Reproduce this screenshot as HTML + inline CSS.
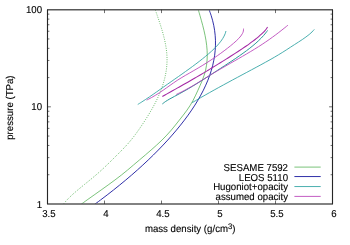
<!DOCTYPE html>
<html><head><meta charset="utf-8"><title>pressure vs mass density</title>
<style>html,body{margin:0;padding:0;background:#fff}svg{display:block;will-change:transform}text{font-family:"Liberation Sans",sans-serif;text-rendering:geometricPrecision}</style>
</head><body>
<svg width="350" height="245" viewBox="0 0 350 245">
<rect width="350" height="245" fill="#fff"/>
<defs><clipPath id="c"><rect x="47.5" y="9.7" width="285" height="194.25"/></clipPath></defs>
<g fill="none" clip-path="url(#c)" stroke-linecap="butt" stroke-linejoin="round">
<path d="M155.43,10.25 C155.72,11.08 156.59,13.57 157.16,15.23 C157.73,16.89 158.30,18.55 158.86,20.21 C159.42,21.87 159.97,23.53 160.50,25.19 C161.03,26.85 161.55,28.51 162.04,30.17 C162.53,31.83 162.99,33.49 163.43,35.15 C163.87,36.81 164.29,38.47 164.66,40.13 C165.03,41.79 165.37,43.45 165.66,45.11 C165.95,46.77 166.21,48.43 166.42,50.09 C166.63,51.75 166.80,53.41 166.90,55.07 C167.00,56.73 167.05,58.38 167.04,60.04 C167.03,61.70 166.96,63.36 166.84,65.02 C166.72,66.68 166.54,68.34 166.31,70.00 C166.08,71.66 165.79,73.32 165.45,74.98 C165.11,76.64 164.72,78.30 164.28,79.96 C163.84,81.62 163.35,83.28 162.81,84.94 C162.27,86.60 161.69,88.26 161.06,89.92 C160.43,91.58 159.75,93.24 159.03,94.90 C158.31,96.56 157.55,98.22 156.75,99.88 C155.95,101.54 155.10,103.20 154.22,104.86 C153.34,106.52 152.42,108.18 151.47,109.84 C150.52,111.50 149.54,113.16 148.53,114.82 C147.52,116.48 146.48,118.14 145.42,119.80 C144.36,121.46 143.27,123.12 142.16,124.78 C141.05,126.44 139.93,128.10 138.77,129.76 C137.61,131.42 136.43,133.08 135.19,134.74 C133.95,136.40 132.67,138.06 131.31,139.72 C129.95,141.38 128.52,143.04 127.03,144.70 C125.54,146.36 123.95,148.02 122.35,149.68 C120.75,151.34 119.07,153.00 117.41,154.66 C115.75,156.32 114.07,157.97 112.39,159.63 C110.71,161.29 109.03,162.95 107.31,164.61 C105.59,166.27 103.85,167.93 102.05,169.59 C100.25,171.25 98.40,172.91 96.48,174.57 C94.56,176.23 92.55,177.89 90.54,179.55 C88.53,181.21 86.43,182.87 84.40,184.53 C82.37,186.19 80.31,187.85 78.34,189.51 C76.37,191.17 74.41,192.83 72.59,194.49 C70.78,196.15 69.02,197.81 67.45,199.47 C65.88,201.13 63.88,203.62 63.16,204.45" stroke="#62b662" stroke-width="0.95" stroke-dasharray="0.95 1.35"/>
<path d="M198.43,10.25 C198.67,11.08 199.41,13.58 199.89,15.24 C200.37,16.90 200.85,18.57 201.31,20.23 C201.77,21.89 202.23,23.57 202.66,25.23 C203.09,26.89 203.52,28.56 203.91,30.22 C204.30,31.88 204.68,33.55 205.02,35.21 C205.36,36.87 205.68,38.54 205.95,40.20 C206.22,41.87 206.46,43.54 206.65,45.20 C206.84,46.87 207.00,48.53 207.10,50.19 C207.20,51.85 207.26,53.52 207.26,55.18 C207.26,56.84 207.21,58.51 207.09,60.17 C206.97,61.84 206.79,63.51 206.54,65.17 C206.29,66.84 205.99,68.50 205.60,70.16 C205.21,71.82 204.74,73.49 204.20,75.15 C203.66,76.81 203.03,78.48 202.37,80.14 C201.71,81.80 200.97,83.47 200.24,85.13 C199.51,86.79 198.75,88.46 197.99,90.13 C197.23,91.80 196.50,93.46 195.70,95.12 C194.90,96.78 194.11,98.45 193.22,100.11 C192.33,101.77 191.40,103.44 190.37,105.10 C189.34,106.76 188.21,108.43 187.03,110.10 C185.85,111.77 184.57,113.43 183.29,115.09 C182.01,116.75 180.67,118.42 179.36,120.08 C178.05,121.74 176.75,123.41 175.41,125.07 C174.07,126.73 172.74,128.41 171.32,130.07 C169.90,131.73 168.44,133.40 166.89,135.06 C165.34,136.72 163.70,138.39 162.00,140.05 C160.30,141.71 158.52,143.38 156.70,145.04 C154.88,146.70 152.99,148.37 151.09,150.03 C149.19,151.69 147.24,153.37 145.29,155.03 C143.34,156.69 141.36,158.36 139.39,160.02 C137.42,161.68 135.46,163.35 133.49,165.01 C131.53,166.67 129.60,168.34 127.60,170.00 C125.59,171.66 123.57,173.34 121.46,175.00 C119.35,176.66 117.17,178.33 114.95,179.99 C112.73,181.65 110.45,183.32 108.15,184.98 C105.85,186.64 103.51,188.31 101.17,189.97 C98.83,191.63 96.46,193.31 94.11,194.97 C91.76,196.63 89.39,198.30 87.08,199.96 C84.77,201.62 81.39,204.12 80.25,204.95" stroke="#6cbc6c" stroke-width="0.9"/>
<path d="M209.29,10.25 C209.59,11.08 210.53,13.58 211.07,15.24 C211.61,16.90 212.10,18.57 212.54,20.23 C212.98,21.89 213.37,23.57 213.71,25.23 C214.05,26.89 214.34,28.56 214.58,30.22 C214.82,31.88 215.02,33.55 215.17,35.21 C215.32,36.87 215.41,38.54 215.46,40.20 C215.51,41.87 215.51,43.54 215.47,45.20 C215.43,46.87 215.33,48.53 215.20,50.19 C215.06,51.85 214.89,53.52 214.66,55.18 C214.43,56.84 214.16,58.51 213.84,60.17 C213.52,61.84 213.16,63.51 212.75,65.17 C212.34,66.84 211.88,68.50 211.39,70.16 C210.89,71.82 210.36,73.49 209.78,75.15 C209.20,76.81 208.58,78.48 207.91,80.14 C207.24,81.80 206.53,83.47 205.78,85.13 C205.03,86.79 204.25,88.46 203.42,90.13 C202.59,91.80 201.72,93.46 200.81,95.12 C199.90,96.78 198.96,98.45 197.98,100.11 C197.00,101.77 195.98,103.44 194.92,105.10 C193.86,106.76 192.77,108.43 191.64,110.10 C190.51,111.77 189.35,113.43 188.15,115.09 C186.95,116.75 185.71,118.42 184.45,120.08 C183.19,121.74 181.89,123.41 180.56,125.07 C179.23,126.73 177.87,128.41 176.48,130.07 C175.09,131.73 173.66,133.40 172.21,135.06 C170.76,136.72 169.27,138.39 167.76,140.05 C166.25,141.71 164.70,143.38 163.13,145.04 C161.56,146.70 159.96,148.37 158.33,150.03 C156.70,151.69 155.05,153.37 153.36,155.03 C151.67,156.69 149.95,158.36 148.20,160.02 C146.45,161.68 144.68,163.35 142.87,165.01 C141.06,166.67 139.23,168.34 137.36,170.00 C135.49,171.66 133.60,173.34 131.67,175.00 C129.74,176.66 127.78,178.33 125.80,179.99 C123.81,181.65 121.80,183.32 119.76,184.98 C117.72,186.64 115.64,188.31 113.54,189.97 C111.44,191.63 109.30,193.31 107.14,194.97 C104.98,196.63 102.78,198.30 100.56,199.96 C98.34,201.62 94.93,204.12 93.80,204.95" stroke="#3030a8" stroke-width="1.0"/>
<path d="M225.95,31.02 C225.83,31.44 225.53,32.72 225.23,33.56 C224.92,34.41 224.55,35.25 224.12,36.09 C223.69,36.93 223.21,37.78 222.68,38.62 C222.15,39.46 221.56,40.31 220.93,41.15 C220.30,41.99 219.62,42.84 218.90,43.68 C218.18,44.52 217.43,45.38 216.63,46.22 C215.83,47.06 215.00,47.91 214.13,48.75 C213.26,49.59 212.37,50.44 211.44,51.28 C210.51,52.12 209.55,52.97 208.57,53.81 C207.59,54.65 206.59,55.50 205.57,56.34 C204.55,57.18 203.51,58.02 202.45,58.87 C201.39,59.71 200.31,60.56 199.22,61.41 C198.13,62.25 197.02,63.10 195.90,63.94 C194.78,64.78 193.65,65.63 192.51,66.47 C191.37,67.31 190.20,68.16 189.04,69.00 C187.88,69.84 186.70,70.69 185.52,71.53 C184.34,72.38 183.15,73.22 181.96,74.07 C180.77,74.91 179.57,75.76 178.37,76.60 C177.17,77.44 175.97,78.29 174.76,79.13 C173.55,79.97 172.34,80.82 171.14,81.66 C169.94,82.50 168.73,83.34 167.53,84.19 C166.33,85.03 165.12,85.89 163.93,86.73 C162.74,87.58 161.55,88.42 160.36,89.26 C159.17,90.10 157.99,90.95 156.79,91.79 C155.59,92.63 154.40,93.48 153.18,94.32 C151.97,95.16 150.74,96.00 149.50,96.85 C148.26,97.69 147.01,98.55 145.73,99.39 C144.45,100.23 143.16,101.08 141.83,101.92 C140.50,102.76 138.45,104.03 137.77,104.45" stroke="#2aa0a0" stroke-width="0.85"/>
<path d="M243.54,28.62 C243.51,29.03 243.56,30.26 243.37,31.08 C243.19,31.90 242.85,32.73 242.43,33.55 C242.01,34.37 241.47,35.19 240.85,36.01 C240.23,36.83 239.50,37.66 238.73,38.48 C237.96,39.30 237.10,40.12 236.21,40.94 C235.32,41.76 234.37,42.59 233.41,43.41 C232.45,44.23 231.46,45.06 230.45,45.88 C229.44,46.70 228.41,47.52 227.36,48.34 C226.31,49.16 225.23,49.99 224.14,50.81 C223.04,51.63 221.93,52.45 220.79,53.27 C219.65,54.09 218.50,54.92 217.32,55.74 C216.14,56.56 214.95,57.38 213.73,58.20 C212.51,59.02 211.27,59.85 210.01,60.67 C208.75,61.49 207.47,62.31 206.17,63.13 C204.87,63.95 203.54,64.78 202.20,65.60 C200.85,66.42 199.48,67.25 198.10,68.07 C196.72,68.89 195.31,69.71 193.89,70.53 C192.47,71.35 191.01,72.18 189.58,73.00 C188.15,73.82 186.70,74.64 185.29,75.46 C183.88,76.28 182.48,77.11 181.14,77.93 C179.80,78.75 178.49,79.57 177.23,80.39 C175.97,81.21 174.77,82.04 173.58,82.86 C172.39,83.68 171.23,84.50 170.07,85.32 C168.91,86.14 167.78,86.97 166.62,87.79 C165.46,88.61 164.31,89.43 163.12,90.25 C161.93,91.07 160.73,91.90 159.47,92.72 C158.21,93.54 156.94,94.37 155.58,95.19 C154.22,96.01 152.82,96.83 151.33,97.65 C149.84,98.47 147.42,99.71 146.64,100.12" stroke="#b840b8" stroke-width="0.85"/>
<path d="M267.55,27.05 C267.28,27.45 266.55,28.65 265.93,29.45 C265.31,30.25 264.61,31.04 263.86,31.84 C263.11,32.64 262.28,33.44 261.42,34.24 C260.56,35.04 259.63,35.84 258.68,36.64 C257.73,37.44 256.73,38.23 255.72,39.03 C254.71,39.83 253.67,40.63 252.60,41.43 C251.53,42.23 250.43,43.03 249.32,43.83 C248.21,44.63 247.07,45.42 245.92,46.22 C244.77,47.02 243.59,47.82 242.40,48.62 C241.21,49.42 240.00,50.22 238.79,51.02 C237.57,51.82 236.35,52.61 235.11,53.41 C233.87,54.21 232.62,55.01 231.37,55.81 C230.12,56.61 228.86,57.41 227.59,58.21 C226.32,59.01 225.05,59.80 223.77,60.60 C222.49,61.40 221.22,62.20 219.93,63.00 C218.64,63.80 217.35,64.59 216.05,65.39 C214.75,66.19 213.44,66.99 212.13,67.79 C210.82,68.59 209.49,69.39 208.17,70.19 C206.84,70.99 205.52,71.78 204.18,72.58 C202.84,73.38 201.49,74.18 200.14,74.98 C198.79,75.78 197.43,76.58 196.06,77.38 C194.69,78.18 193.32,78.97 191.94,79.77 C190.56,80.57 189.17,81.37 187.77,82.17 C186.37,82.97 184.97,83.77 183.56,84.57 C182.15,85.37 180.73,86.16 179.31,86.96 C177.89,87.76 176.46,88.56 175.04,89.36 C173.62,90.16 172.20,90.96 170.78,91.76 C169.36,92.56 167.94,93.35 166.54,94.15 C165.13,94.95 163.05,96.15 162.35,96.55" stroke="#a428a4" stroke-width="1.05"/>
<path d="M267.55,30.45 C267.24,30.87 266.35,32.13 265.69,32.98 C265.03,33.82 264.32,34.68 263.58,35.52 C262.84,36.37 262.06,37.20 261.24,38.05 C260.42,38.89 259.57,39.75 258.68,40.59 C257.79,41.44 256.87,42.27 255.91,43.12 C254.95,43.96 253.97,44.81 252.95,45.66 C251.93,46.50 250.88,47.34 249.80,48.19 C248.72,49.03 247.62,49.88 246.49,50.73 C245.36,51.57 244.20,52.42 243.03,53.26 C241.86,54.10 240.66,54.95 239.45,55.79 C238.24,56.63 237.00,57.48 235.75,58.33 C234.50,59.17 233.25,60.02 231.98,60.86 C230.71,61.70 229.43,62.55 228.14,63.40 C226.85,64.25 225.55,65.09 224.26,65.93 C222.97,66.78 221.67,67.62 220.37,68.47 C219.07,69.31 217.77,70.16 216.48,71.00 C215.19,71.84 213.89,72.70 212.60,73.54 C211.31,74.39 210.01,75.22 208.71,76.07 C207.41,76.91 206.11,77.77 204.79,78.61 C203.47,79.45 202.15,80.30 200.81,81.14 C199.47,81.98 198.13,82.83 196.76,83.67 C195.39,84.52 194.00,85.36 192.60,86.21 C191.19,87.05 189.78,87.89 188.33,88.74 C186.88,89.58 185.41,90.44 183.91,91.28 C182.41,92.12 180.88,92.97 179.32,93.81 C177.76,94.66 176.14,95.50 174.57,96.35 C173.00,97.19 171.37,98.03 169.89,98.88 C168.41,99.72 166.95,100.58 165.69,101.42 C164.43,102.27 162.90,103.53 162.34,103.95" stroke="#1f9494" stroke-width="0.95"/>
<path d="M287.87,25.25 C287.38,25.65 285.91,26.84 284.92,27.64 C283.93,28.44 282.93,29.23 281.92,30.02 C280.91,30.81 279.89,31.61 278.85,32.41 C277.81,33.21 276.77,34.00 275.71,34.80 C274.65,35.59 273.57,36.38 272.48,37.18 C271.39,37.98 270.28,38.77 269.15,39.57 C268.02,40.37 266.88,41.16 265.71,41.95 C264.54,42.75 263.36,43.54 262.15,44.34 C260.94,45.14 259.70,45.93 258.44,46.73 C257.18,47.52 255.90,48.31 254.61,49.11 C253.32,49.91 252.00,50.70 250.68,51.50 C249.36,52.30 248.01,53.09 246.66,53.89 C245.31,54.69 243.95,55.48 242.58,56.27 C241.21,57.07 239.84,57.86 238.46,58.66 C237.08,59.45 235.69,60.24 234.30,61.04 C232.91,61.84 231.52,62.63 230.14,63.43 C228.75,64.23 227.37,65.02 225.99,65.82 C224.61,66.61 223.23,67.41 221.86,68.20 C220.49,69.00 219.12,69.79 217.77,70.59 C216.42,71.39 215.07,72.19 213.74,72.98 C212.41,73.78 211.09,74.56 209.79,75.36 C208.48,76.16 207.20,76.95 205.91,77.75 C204.62,78.55 203.35,79.34 202.07,80.14 C200.78,80.94 199.50,81.72 198.20,82.52 C196.89,83.31 195.59,84.11 194.24,84.91 C192.90,85.70 191.54,86.50 190.13,87.29 C188.72,88.09 187.29,88.88 185.80,89.68 C184.31,90.48 182.79,91.27 181.20,92.07 C179.61,92.86 177.08,94.05 176.26,94.45" stroke="#b840b8" stroke-width="0.85"/>
<path d="M314.25,29.45 C313.88,29.87 312.86,31.13 312.01,31.97 C311.16,32.81 310.20,33.66 309.18,34.50 C308.16,35.34 307.05,36.18 305.90,37.02 C304.75,37.86 303.53,38.71 302.29,39.55 C301.05,40.39 299.75,41.23 298.46,42.07 C297.17,42.91 295.84,43.75 294.54,44.59 C293.24,45.43 291.94,46.28 290.64,47.12 C289.34,47.96 288.07,48.80 286.76,49.64 C285.45,50.48 284.15,51.33 282.80,52.17 C281.45,53.01 280.08,53.85 278.68,54.69 C277.28,55.53 275.86,56.38 274.41,57.22 C272.96,58.06 271.49,58.90 270.00,59.74 C268.51,60.58 267.00,61.42 265.48,62.26 C263.96,63.10 262.42,63.95 260.87,64.79 C259.32,65.63 257.76,66.47 256.20,67.31 C254.64,68.15 253.06,69.00 251.49,69.84 C249.92,70.68 248.33,71.52 246.76,72.36 C245.19,73.20 243.61,74.04 242.04,74.88 C240.47,75.72 238.90,76.57 237.33,77.41 C235.76,78.25 234.19,79.09 232.63,79.93 C231.07,80.77 229.52,81.62 227.97,82.46 C226.42,83.30 224.87,84.14 223.33,84.98 C221.79,85.82 220.26,86.67 218.73,87.51 C217.20,88.35 215.67,89.19 214.16,90.03 C212.65,90.87 211.15,91.71 209.65,92.55 C208.15,93.39 206.66,94.24 205.18,95.08 C203.70,95.92 202.24,96.76 200.78,97.60 C199.32,98.44 197.87,99.29 196.43,100.13 C194.99,100.97 192.86,102.23 192.15,102.65" stroke="#2aa0a0" stroke-width="0.85"/>
</g>
<g fill="none" stroke-linecap="butt">
<path d="M47,9.75H333" stroke="#585858" stroke-width="1.45"/>
<path d="M47,203.9H333" stroke="#585858" stroke-width="1.45"/>
<path d="M47.5,9.75V203.9 M332.5,9.75V203.9" stroke="#262626" stroke-width="1.12"/>
</g>
<g stroke="#222" stroke-width="0.65" fill="none">
<path d="M104.50,203.95v-3.4 M104.50,9.70v3.4"/>
<path d="M161.50,203.95v-3.4 M161.50,9.70v3.4"/>
<path d="M218.50,203.95v-3.4 M218.50,9.70v3.4"/>
<path d="M275.50,203.95v-3.4 M275.50,9.70v3.4"/>
<path d="M47.50,174.71h1.9 M332.50,174.71h-1.9"/>
<path d="M47.50,157.61h1.9 M332.50,157.61h-1.9"/>
<path d="M47.50,145.47h1.9 M332.50,145.47h-1.9"/>
<path d="M47.50,136.06h1.9 M332.50,136.06h-1.9"/>
<path d="M47.50,128.37h1.9 M332.50,128.37h-1.9"/>
<path d="M47.50,121.87h1.9 M332.50,121.87h-1.9"/>
<path d="M47.50,116.24h1.9 M332.50,116.24h-1.9"/>
<path d="M47.50,111.27h1.9 M332.50,111.27h-1.9"/>
<path d="M47.50,106.82h3.4 M332.50,106.82h-3.4"/>
<path d="M47.50,77.59h1.9 M332.50,77.59h-1.9"/>
<path d="M47.50,60.48h1.9 M332.50,60.48h-1.9"/>
<path d="M47.50,48.35h1.9 M332.50,48.35h-1.9"/>
<path d="M47.50,38.94h1.9 M332.50,38.94h-1.9"/>
<path d="M47.50,31.25h1.9 M332.50,31.25h-1.9"/>
<path d="M47.50,24.74h1.9 M332.50,24.74h-1.9"/>
<path d="M47.50,19.11h1.9 M332.50,19.11h-1.9"/>
<path d="M47.50,14.14h1.9 M332.50,14.14h-1.9"/>
</g>
<g font-family="Liberation Sans, sans-serif" font-size="10" fill="#000" stroke="#000" stroke-width="0.12" stroke-linejoin="round">
<text transform="translate(42.00,13.30) scale(0.965,1)" text-anchor="end">100</text>
<text transform="translate(42.00,110.42) scale(0.965,1)" text-anchor="end">10</text>
<text transform="translate(42.00,207.55) scale(0.965,1)" text-anchor="end">1</text>
<text transform="translate(48.90,217.20) scale(0.965,1)" text-anchor="middle">3.5</text>
<text transform="translate(105.90,217.20) scale(0.965,1)" text-anchor="middle">4</text>
<text transform="translate(162.90,217.20) scale(0.965,1)" text-anchor="middle">4.5</text>
<text transform="translate(219.90,217.20) scale(0.965,1)" text-anchor="middle">5</text>
<text transform="translate(276.90,217.20) scale(0.965,1)" text-anchor="middle">5.5</text>
<text transform="translate(333.90,217.20) scale(0.965,1)" text-anchor="middle">6</text>
<text transform="translate(190.20,232.40) scale(0.965,1)" text-anchor="middle">mass density (g/cm<tspan dy="-3.7" font-size="8">3</tspan><tspan dy="3.7">)</tspan></text>
<text transform="translate(13.20,107.60) rotate(-90) scale(0.965,1)" text-anchor="middle">pressure (TPa)</text>
<text transform="translate(288.00,170.90) scale(0.965,1)" text-anchor="end">SESAME 7592</text>
<text transform="translate(288.00,180.57) scale(0.965,1)" text-anchor="end">LEOS 5110</text>
<text transform="translate(288.00,190.24) scale(0.965,1)" text-anchor="end">Hugoniot+opacity</text>
<text transform="translate(288.00,199.91) scale(0.965,1)" text-anchor="end">assumed opacity</text>
</g>
<g fill="none">
<path d="M294.4,167.10H320.7" stroke="#6cbc6c" stroke-width="0.9"/>
<path d="M294.4,176.55H320.7" stroke="#3030a8" stroke-width="1.0"/>
<path d="M294.4,186.55H320.7" stroke="#2aa0a0" stroke-width="0.85"/>
<path d="M294.4,196.40H320.7" stroke="#b840b8" stroke-width="0.85"/>
</g>
</svg>
</body></html>
